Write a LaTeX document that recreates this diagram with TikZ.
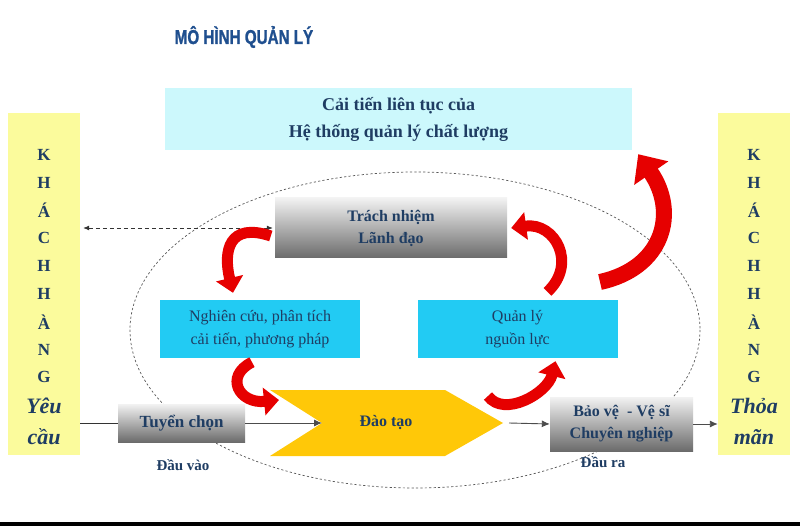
\documentclass[tikz,border=0pt]{standalone}
\usepackage{fontspec}
\setmainfont{Liberation Serif}
\newfontfamily\titlefont[FakeStretch=0.76,FakeBold=1.2]{Liberation Sans}
\usetikzlibrary{arrows.meta}
\definecolor{txt}{HTML}{1F3D63}
\definecolor{ttl}{HTML}{1F4F8F}
\definecolor{ylw}{HTML}{FBFB9C}
\definecolor{lcyan}{HTML}{CCF8FC}
\definecolor{cyanbox}{HTML}{22CBF3}
\definecolor{chev}{HTML}{FFC808}
\definecolor{redarr}{HTML}{E60000}
\definecolor{darkred}{HTML}{C40000}
\begin{document}
\begin{tikzpicture}[x=1pt,y=-1pt,
  lbl/.style={text=txt, align=center, inner sep=0pt},
  ybox/.style={fill=ylw, minimum width=72pt, minimum height=342pt, inner sep=0pt},
  letter/.style={text=txt, font=\fontsize{17}{20}\selectfont\bfseries, inner sep=0pt},
  itl/.style={text=txt, font=\fontsize{22}{26}\selectfont\bfseries\itshape, inner sep=0pt},
  gbox/.style={top color=black!5, bottom color=black!58, text=txt, align=center,
     font=\fontsize{16}{22}\selectfont\bfseries, inner sep=0pt},
  cbox/.style={fill=cyanbox, text=txt, align=center, minimum width=200pt, minimum height=58pt,
     font=\fontsize{16}{23}\selectfont, inner sep=0pt},
  flow/.style={draw=black!70, line width=0.9pt, -{Latex[length=8pt,width=7pt]}},
  redcurve/.style={draw=redarr, line width=11pt, -{Triangle[width=27pt,length=15pt]}},
  bigcurve/.style={draw=redarr, line width=16pt, -{Triangle[width=40pt,length=23pt]}}
]
\path[use as bounding box, fill=white] (0,0) rectangle (800,526);
\fill[black] (0,522) rectangle (800,526);

% title
\node[text=ttl, font=\titlefont\fontsize{20}{24}\selectfont\bfseries, inner sep=0pt] (title) at (244,37) {MÔ HÌNH QUẢN LÝ};

% top box
\node[fill=lcyan, minimum width=467pt, minimum height=62pt, lbl,
      font=\fontsize{18}{27}\selectfont\bfseries] (ci) at (398.5,119)
      {Cải tiến liên tục của\\Hệ thống quản lý chất lượng};

% yellow boxes
\node[ybox] (kL) at (44,284) {};
\node[ybox] (kR) at (754,284) {};
\foreach \ch [count=\i] in {K,H,Á,C,H,H,À,N,G}{
  \node[letter] (L\i) at (44,155+27.8*\i-27.8) {\ch};
  \node[letter] (R\i) at (754,155+27.8*\i-27.8) {\ch};
}
\node[itl] (yeu) at (44,406) {Yêu};
\node[itl] (cau) at (44,437) {cầu};
\node[itl] (thoa) at (754,406) {Thỏa};
\node[itl] (man) at (754,437) {mãn};

% dashed ellipse
\draw[black!65, line width=0.7pt, dash pattern=on 2.2pt off 2.2pt] (415,330) ellipse [x radius=285, y radius=158];

% boxes
\node[gbox, minimum width=232pt, minimum height=60pt] (lead) at (391,228) {Trách nhiệm\\Lãnh đạo};
\node[cbox] (nc) at (260,329) {Nghiên cứu, phân tích\\cải tiến, phương pháp};
\node[cbox] (ql) at (517.5,329) {Quản lý\\nguồn lực};
\node[gbox, minimum width=127pt, minimum height=38pt, font=\fontsize{17}{22}\selectfont\bfseries] (tc) at (181.5,423) {Tuyển chọn};
\node[gbox, minimum width=143pt, minimum height=54pt] (bv) at (621.5,424) {Bảo vệ\ \ - Vệ sĩ\\Chuyên nghiệp};

% chevron
\fill[chev] (270,390) -- (445,390) -- (503,423) -- (445,456) -- (270,456) -- (322,423) -- cycle;
\coordinate (dtnotch) at (322,423);
\coordinate (dttip) at (503,423);
\node[lbl, font=\fontsize{16}{20}\selectfont\bfseries] (dt) at (386,423) {Đào tạo};

\node[lbl, font=\fontsize{15}{18}\selectfont\bfseries] (dv) at (183,465) {Đầu vào};
\node[lbl, font=\fontsize{15}{18}\selectfont\bfseries] (dr) at (603,462) {Đầu ra};

% flow lines
\draw[black!80, line width=0.9pt] (kL.east |- tc.west) -- (tc.west);
\draw[flow] (tc.east) -- (dtnotch);
\draw[flow] ([xshift=6pt]dttip) -- (bv.west);
\draw[flow] (bv.east) -- (kR.west |- bv.east);

% dashed double arrow
\draw[black!80, line width=0.8pt, dash pattern=on 4pt off 3pt, {Latex[length=6pt,width=5pt]}-{Latex[length=6pt,width=5pt]}]
  ([xshift=3pt]kL.east |- lead.west) -- ([xshift=-2pt]lead.west);

% red curved arrows
\draw[redcurve] ([xshift=-4pt,yshift=-8pt]lead.west) .. controls +(-42,-14) and +(-10,-42) .. ([xshift=-27pt,yshift=7pt]nc.north);
\draw[redcurve] ([xshift=-8pt,yshift=-4pt]nc.south) .. controls +(-28,14) and +(-40,4) .. (279,400);
\draw[redcurve] (488,396) .. controls +(16,22) and +(-8,32) .. ([xshift=38pt,yshift=-3pt]ql.south);
\draw[redcurve] ([xshift=30pt,yshift=8pt]ql.north) .. controls +(30,-28) and +(44,-6) .. ([xshift=4pt]lead.east);
\draw[bigcurve] (600,282) .. controls +(64,-14) and +(40,58) .. ([xshift=6pt,yshift=-4pt]ci.south east);
\end{tikzpicture}
\end{document}
